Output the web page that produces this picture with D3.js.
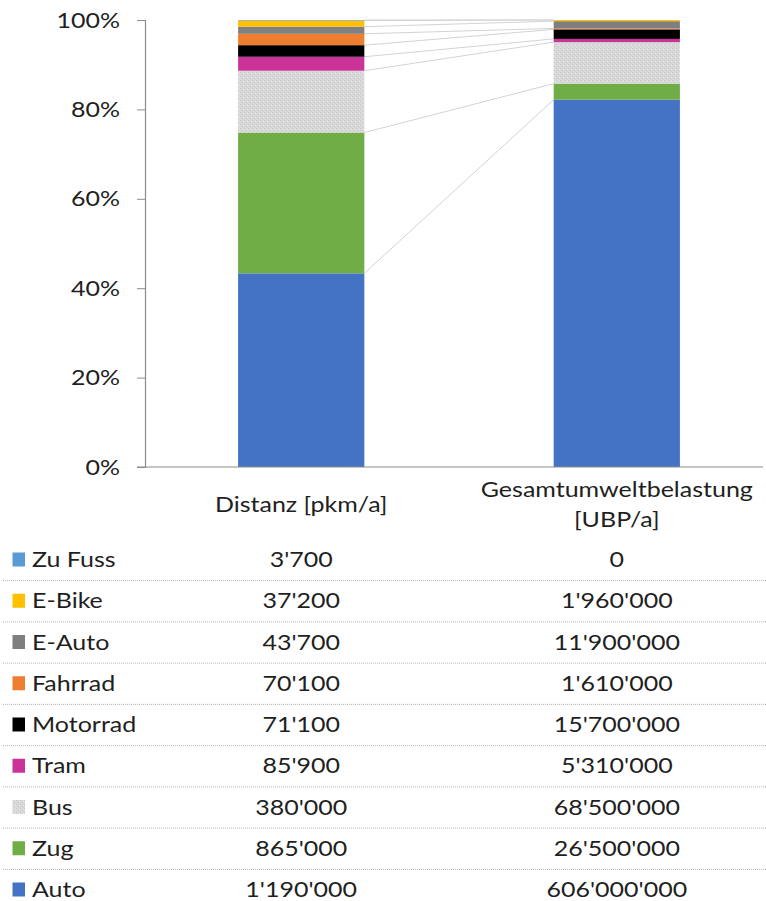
<!DOCTYPE html>
<html>
<head>
<meta charset="utf-8">
<script src="https://cdn.jsdelivr.net/npm/d3@7"></script>
<style>
  html, body { margin: 0; padding: 0; background: #fff; }
  svg { display: block; }
  text { font-family: Lato, "Liberation Sans", sans-serif; fill: #1f1f1f; }
</style>
</head>
<body>
<svg id="chart" width="766" height="901"></svg>
<script>
// Transport modes, listed from the bottom of the stack to the top
const modes = ["Auto", "Zug", "Bus", "Tram", "Motorrad", "Fahrrad", "E-Auto", "E-Bike", "Zu Fuss"];
const columns = ["Distanz [pkm/a]", "Gesamtumweltbelastung [UBP/a]"];
const columnLines = [["Distanz [pkm/a]"], ["Gesamtumweltbelastung", "[UBP/a]"]];
const distanz = [1190000, 865000, 380000, 85900, 71100, 70100, 43700, 37200, 3700];
const belastung = [606000000, 26500000, 68500000, 5310000, 15700000, 1610000, 11900000, 1960000, 0];
const colors = ["#4472C4", "#70AD47", "#D9D9D9", "#CC3399", "#000000", "#ED7D31", "#7F7F7F", "#FFC000", "#5B9BD5"];
const yTicks = [0, 0.2, 0.4, 0.6, 0.8, 1.0];

const FONT_SIZE = 20.5;
const STRETCH = 1.22;   // wide lettering

const svg = d3.select("#chart");
const defs = svg.append("defs");

// place a text element at (px, py) with horizontally widened glyphs
function placeText(sel, px, py) {
  return sel.attr("x", 0).attr("y", 0)
    .attr("transform", `translate(${px},${py}) scale(${STRETCH},1)`)
    .attr("font-size", FONT_SIZE);
}

// speckled fill used for the bus segments
const pat = defs.append("pattern")
  .attr("id", "speckle").attr("patternUnits", "userSpaceOnUse")
  .attr("width", 4).attr("height", 4);
pat.append("rect").attr("width", 4).attr("height", 4).attr("fill", "#D9D9D9");
pat.append("rect").attr("x", 0).attr("y", 0).attr("width", 1).attr("height", 1).attr("fill", "#C4C4C4");
pat.append("rect").attr("x", 2).attr("y", 2).attr("width", 1).attr("height", 1).attr("fill", "#C4C4C4");
pat.append("rect").attr("x", 3).attr("y", 1).attr("width", 1).attr("height", 1).attr("fill", "#E6E6E6");
const fillOf = i => modes[i] === "Bus" ? "url(#speckle)" : colors[i];

const plot = { left: 145, right: 763, top: 20, bottom: 467 };

const x = d3.scaleBand().domain(columns).range([plot.left, 773]).paddingInner(0.6).paddingOuter(0.295);
const y = d3.scaleLinear().domain([0, 1]).range([plot.bottom, plot.top]);

// normalise each column to shares and stack them
const rows = columns.map((c, ci) => {
  const vals = ci === 0 ? distanz : belastung;
  const total = d3.sum(vals);
  const r = { column: c };
  modes.forEach((m, i) => r[m] = vals[i] / total);
  return r;
});
const series = d3.stack().keys(modes)(rows);

// connector lines between the tops of matching segments
const bw = x.bandwidth();
svg.append("g").selectAll("line").data(series).join("line")
  .attr("x1", x(columns[0]) + bw)
  .attr("x2", x(columns[1]))
  .attr("y1", s => y(s[0][1]))
  .attr("y2", s => y(s[1][1]))
  .attr("stroke", "#D3D3D3").attr("stroke-width", 1);

// stacked bars
svg.append("g").selectAll("g").data(series).join("g")
  .attr("fill", (s, i) => fillOf(i))
  .selectAll("rect").data(s => s).join("rect")
  .attr("x", d => x(d.data.column))
  .attr("width", bw)
  .attr("y", d => y(d[1]))
  .attr("height", d => Math.max(0, y(d[0]) - y(d[1])));

// y axis
const yAxis = svg.append("g").attr("transform", `translate(${plot.left},0)`)
  .call(d3.axisLeft(y).tickValues(yTicks).tickFormat(d3.format(".0%")).tickSize(8));
yAxis.select(".domain").attr("stroke", "#8C8C8C").attr("stroke-width", 1.2);
yAxis.selectAll(".tick line").attr("stroke", "#8C8C8C");
yAxis.selectAll(".tick text")
  .attr("x", 0).attr("dy", "0.35em")
  .attr("transform", `translate(-25,0) scale(${STRETCH},1)`)
  .attr("font-size", FONT_SIZE)
  .style("font-family", "Lato, 'Liberation Sans', sans-serif")
  .attr("fill", "#1f1f1f");

// x axis baseline
svg.append("line")
  .attr("x1", plot.left - 8).attr("x2", plot.right)
  .attr("y1", y(0)).attr("y2", y(0))
  .attr("stroke", "#8C8C8C").attr("stroke-width", 1.2);

// category labels
columnLines.forEach((lines, ci) => {
  const cx = x(columns[ci]) + bw / 2;
  const y0 = lines.length === 1 ? 512 : 497;
  lines.forEach((ln, li) => {
    placeText(svg.append("text").attr("text-anchor", "middle"), cx, y0 + li * 30).text(ln);
  });
});

// data table below the chart
const fmt = v => d3.format(",")(v).replace(/,/g, "'");
const tableModes = modes.slice().reverse();
const rowY = d3.scalePoint().domain(tableModes).range([560, 890]);
const rowStep = rowY.step();

const table = svg.append("g");
tableModes.forEach((m, k) => {
  const i = modes.indexOf(m);
  const cy = rowY(m);
  table.append("rect")
    .attr("x", 12.5).attr("y", cy - 7.5).attr("width", 12.5).attr("height", 14)
    .attr("fill", fillOf(i));
  placeText(table.append("text").attr("dy", "0.35em"), 32, cy).text(m);
  [distanz, belastung].forEach((vals, ci) => {
    placeText(table.append("text").attr("dy", "0.35em").attr("text-anchor", "middle"),
      x(columns[ci]) + bw / 2, cy).text(fmt(vals[i]));
  });
  if (k < tableModes.length - 1) {
    table.append("line")
      .attr("x1", 3).attr("x2", 766)
      .attr("y1", cy + rowStep / 2).attr("y2", cy + rowStep / 2)
      .attr("stroke", "#B4B4B4").attr("stroke-width", 1).attr("stroke-dasharray", "1,1");
  }
});
</script>
</body>
</html>
